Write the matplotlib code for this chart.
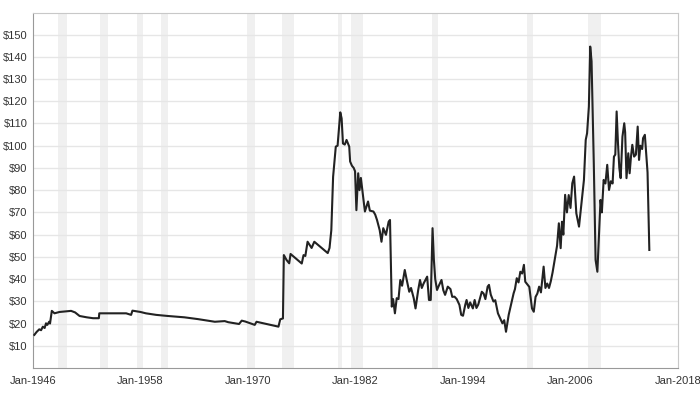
import matplotlib
matplotlib.use("Agg")
import matplotlib.pyplot as plt
from matplotlib.ticker import FixedLocator

plt.rcParams['font.family'] = ['Liberation Sans', 'DejaVu Sans']

# crude oil price, inflation adjusted
years = [1946.15, 1946.4, 1946.7, 1946.9, 1947.1, 1947.3, 1947.45, 1947.6, 1947.8, 1947.9,
         1948.1, 1948.4, 1948.95, 1950.25, 1950.7, 1951.2, 1952.0, 1952.7, 1953.35, 1953.4,
         1956.4, 1956.95, 1957.1, 1958.0, 1958.6, 1959.75, 1961.05, 1962.9, 1964.4, 1966.3,
         1967.4, 1967.8, 1969.0, 1969.3, 1969.7, 1970.75, 1970.95, 1971.5, 1973.4, 1973.6,
         1973.9, 1974.0, 1974.3, 1974.6, 1974.75, 1976.0, 1976.2, 1976.4, 1976.65, 1977.1,
         1977.4, 1978.9, 1979.1, 1979.3, 1979.5, 1979.8, 1980.0, 1980.3, 1980.45, 1980.6,
         1980.8, 1981.0, 1981.3, 1981.4, 1981.6, 1981.8, 1981.95, 1982.1, 1982.3, 1982.45,
         1982.6, 1982.8, 1983.05, 1983.4, 1983.6, 1984.0, 1984.2, 1984.4, 1984.7, 1984.9,
         1985.1, 1985.4, 1985.7, 1985.85, 1986.05, 1986.2, 1986.4, 1986.6, 1986.8, 1987.0,
         1987.2, 1987.5, 1987.7, 1988.0, 1988.2, 1988.5, 1988.7, 1989.0, 1989.2, 1989.4,
         1989.6, 1990.0, 1990.2, 1990.4, 1990.6, 1990.75, 1990.9, 1991.1, 1991.3, 1991.6,
         1991.8, 1992.0, 1992.3, 1992.6, 1992.8, 1993.05, 1993.3, 1993.6, 1993.8, 1994.0,
         1994.25, 1994.4, 1994.6, 1994.8, 1995.1, 1995.3, 1995.5, 1995.7, 1996.1, 1996.3,
         1996.5, 1996.75, 1996.9, 1997.1, 1997.4, 1997.6, 1997.9, 1998.15, 1998.4, 1998.6,
         1998.8, 1999.1, 1999.4, 1999.65, 1999.8, 2000.0, 2000.2, 2000.4, 2000.6, 2000.8,
         2000.95, 2001.2, 2001.4, 2001.7, 2001.9, 2002.1, 2002.3, 2002.5, 2002.7, 2003.0,
         2003.2, 2003.4, 2003.6, 2003.8, 2004.0, 2004.3, 2004.5, 2004.7, 2004.9, 2005.05,
         2005.2, 2005.4, 2005.6, 2005.8, 2006.0, 2006.2, 2006.4, 2006.65, 2006.95, 2007.2,
         2007.5, 2007.7, 2007.85, 2008.05, 2008.2, 2008.35, 2008.6, 2008.8, 2009.0, 2009.15,
         2009.35, 2009.5, 2009.7, 2009.9, 2010.1, 2010.3, 2010.5, 2010.7, 2010.85, 2011.0,
         2011.15, 2011.3, 2011.45, 2011.6, 2011.8, 2012.0, 2012.1, 2012.25, 2012.45, 2012.6,
         2012.75, 2012.9, 2013.1, 2013.3, 2013.5, 2013.65, 2013.8, 2014.0, 2014.1, 2014.3,
         2014.45, 2014.6, 2014.8]
prices = [14.9, 16.2, 17.4, 17.0, 18.6, 18.0, 20.1, 19.4, 20.8, 20.0,
          25.7, 24.6, 25.2, 25.7, 25.0, 23.4, 22.8, 22.4, 22.4, 24.6,
          24.6, 23.9, 25.8, 25.2, 24.6, 23.9, 23.4, 22.8, 22.0, 20.8,
          21.1, 20.6, 19.8, 21.3, 20.9, 19.4, 20.8, 20.3, 18.6, 21.9,
          22.3, 50.8, 48.6, 47.1, 51.3, 47.0, 50.8, 50.4, 56.8, 54.0,
          56.8, 51.7, 54.0, 62.0, 86.0, 99.6, 100.0, 115.0, 112.3, 101.0,
          100.5, 102.6, 99.6, 92.9, 91.0, 90.0, 88.5, 71.0, 87.6, 80.0,
          85.5, 78.6, 70.4, 74.9, 70.8, 70.4, 69.0, 66.6, 62.0, 56.8,
          62.9, 59.9, 65.8, 66.6, 27.6, 31.0, 24.6, 31.4, 31.0, 39.6,
          37.0, 44.1, 40.0, 34.3, 36.0, 31.4, 26.8, 35.1, 39.6, 36.0,
          38.0, 41.1, 30.6, 30.6, 62.9, 48.6, 40.0, 35.1, 37.0, 39.6,
          35.0, 32.9, 36.6, 35.5, 32.0, 32.1, 31.0, 28.4, 23.9, 23.5,
          28.4, 30.6, 27.0, 29.5, 26.8, 30.6, 27.0, 28.5, 34.3, 33.5,
          31.0, 36.6, 37.4, 33.0, 29.9, 30.5, 24.6, 22.4, 20.1, 21.5,
          16.3, 23.9, 29.1, 33.6, 35.5, 40.4, 38.5, 43.3, 42.5, 46.4,
          38.8, 37.5, 36.5, 26.8, 25.3, 32.0, 33.5, 36.6, 34.0, 45.6,
          36.0, 38.0, 36.0, 39.0, 43.0, 50.1, 55.0, 65.1, 53.9, 65.8,
          60.0, 77.9, 70.0, 77.8, 72.0, 83.1, 86.1, 69.6, 63.6, 73.0,
          84.6, 102.6, 105.6, 117.6, 144.6, 138.0, 92.1, 48.6, 43.3, 57.0,
          75.6, 70.0, 84.6, 83.0, 91.4, 80.1, 84.0, 83.0, 95.1, 96.0,
          115.4, 101.1, 90.0, 85.4, 104.1, 110.1, 106.0, 85.4, 96.6, 87.6,
          95.0, 100.4, 95.1, 96.0, 108.6, 93.6, 100.0, 98.5, 103.4, 104.9,
          96.6, 88.0, 53.1]

# recessions (shaded bands)
rec_start = [1948.83, 1953.5, 1957.58, 1960.25, 1969.92, 1973.83, 1980.0, 1981.5, 1990.5, 2001.17, 2007.92]
rec_end = [1949.75, 1954.33, 1958.25, 1961.08, 1970.83, 1975.17, 1980.5, 1982.83, 1991.17, 2001.83, 2009.42]

tick_years = [1946, 1958, 1970, 1982, 1994, 2006, 2018]
tick_labels = ['Jan-1946', 'Jan-1958', 'Jan-1970', 'Jan-1982', 'Jan-1994', 'Jan-2006', 'Jan-2018']
y_ticks = list(range(10, 160, 10))

fig = plt.figure(figsize=(7, 3.93), dpi=100)
ax = fig.add_axes([33 / 700, 25 / 393, 645 / 700, 355 / 393])

for s, e in zip(rec_start, rec_end):
    ax.axvspan(s, e, color='#f0f0f0', lw=0, zorder=0)

ax.plot(years, prices, color='#222222', lw=1.5, zorder=3, solid_joinstyle='round')

ax.set_xlim(1946, 2018)
ax.set_ylim(0, 159.7)
ax.set_xticks(tick_years)
ax.set_xticklabels(tick_labels)
ax.yaxis.set_major_locator(FixedLocator(y_ticks))
ax.set_yticklabels(['$%d' % v for v in y_ticks])
ax.grid(axis='y', color='#e6e6e6', lw=1, zorder=1)
ax.set_axisbelow(True)
ax.tick_params(length=0, labelsize=8, colors='#333333')
ax.tick_params(axis='x', pad=6)
ax.tick_params(axis='y', pad=4)

for side in ['left', 'bottom']:
    ax.spines[side].set_color('#999999')
for side in ['top', 'right']:
    ax.spines[side].set_color('#c8c8c8')

fig.savefig('out.png', dpi=100)
